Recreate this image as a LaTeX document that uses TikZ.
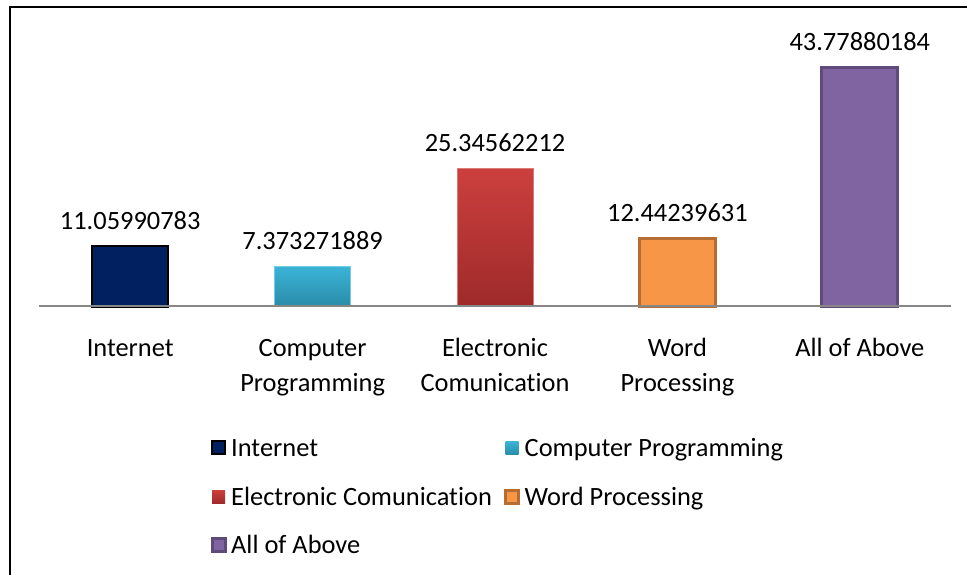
\documentclass[tikz,border=0pt]{standalone}
\usepackage{fontspec}
\setmainfont{Carlito}[Ligatures={NoCommon}]
\usetikzlibrary{positioning}

\definecolor{inetblue}{HTML}{002060}
\definecolor{progtop}{HTML}{3BB4D7}
\definecolor{progbot}{HTML}{2A8CA8}
\definecolor{commtop}{HTML}{CC403E}
\definecolor{commbot}{HTML}{9E2A2A}
\definecolor{wordfill}{HTML}{F79646}
\definecolor{wordline}{HTML}{B66D31}
\definecolor{allfill}{HTML}{8064A2}
\definecolor{allline}{HTML}{5F4B7A}
\definecolor{axisgray}{HTML}{878787}

\tikzset{
  chartfont/.style={font=\fontsize{26.4}{35}\selectfont, inner sep=0pt},
  barinet/.style={fill=inetblue, draw=black, line width=2.5pt},
  barprog/.style={top color=progtop, bottom color=progbot, draw=progtop!70!white, line width=1pt},
  barcomm/.style={top color=commtop, bottom color=commbot, draw=commtop!70!white, line width=1pt},
  barword/.style={fill=wordfill, draw=wordline, line width=3pt},
  barall/.style={fill=allfill, draw=allline, line width=3pt},
  keybox/.style={minimum size=13pt, inner sep=0pt, outer sep=0pt},
  keytext/.style={chartfont, text height=22pt, text depth=5pt},
}

\begin{document}
\begin{tikzpicture}[x=1pt, y=1pt]
\useasboundingbox (0,0) rectangle (967,575);

% frame of the chart area
\draw[line width=2pt] (10,0) -- (10,568) -- (967,568);

% ends of the category axis
\coordinate (axisL) at (39,268.5);
\coordinate (axisR) at (951,268.5);

% bars, value labels and category names
\foreach \k/\v/\sty/\lab in {1/11.05990783/barinet/Internet,
    2/7.373271889/barprog/{Computer\\Programming},
    3/25.34562212/barcomm/{Electronic\\Comunication},
    4/12.44239631/barword/{Word\\Processing},
    5/43.77880184/barall/{All of Above}} {
  \pgfmathsetmacro{\xc}{39+182.4*(\k-0.5)}
  \node[\sty, minimum width=76pt, minimum height={\v*5.46pt}, inner sep=0pt, outer sep=0pt, anchor=south] (bar\k) at (\xc,268.5) {};
  \node[chartfont, anchor=base] (val\k) at ([yshift=17pt]bar\k.north) {\v};
  % fixed first-line height so every name sits on the same baseline
  \node[chartfont, align=center, anchor=north] (cat\k) at (\xc,237.5) {\rule{0pt}{19pt}\lab};
}

\draw[axisgray, line width=2pt] (axisL) -- (axisR);

% legend
\node[barinet, keybox, line width=2pt] (key1) at (218.5,127) {};
\node[keytext, right=6pt of key1] (keytext1) {Internet};
\node[barprog, keybox, draw=none] (key2) at (512,127) {};
\node[keytext, right=6pt of key2] (keytext2) {Computer Programming};
\node[barcomm, keybox, draw=none] (key3) at (218.5,78) {};
\node[keytext, right=6pt of key3] (keytext3) {Electronic Comunication};
\node[barword, keybox, line width=3pt] (key4) at (512,78) {};
\node[keytext, right=6pt of key4] (keytext4) {Word Processing};
\node[barall, keybox, line width=3pt] (key5) at (218.5,30) {};
\node[keytext, right=6pt of key5] (keytext5) {All of Above};

\end{tikzpicture}
\end{document}
